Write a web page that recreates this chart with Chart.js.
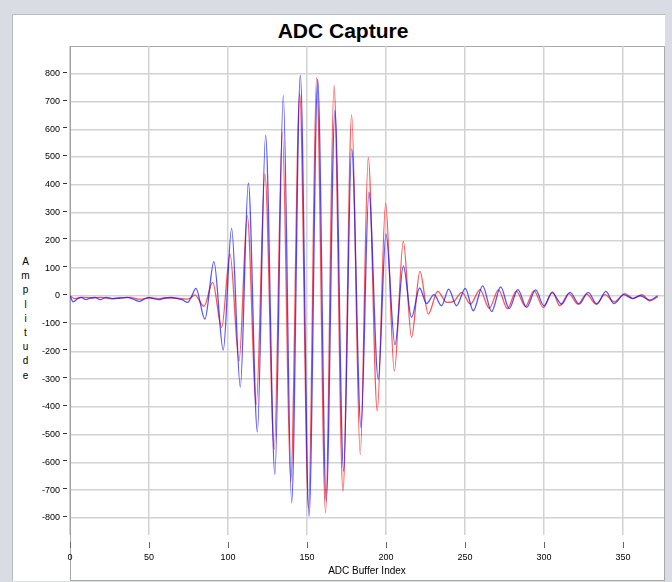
<!DOCTYPE html>
<html>
<head>
<meta charset="utf-8">
<title>ADC Capture</title>
<script src="https://cdn.jsdelivr.net/npm/chart.js@4.4.0/dist/chart.umd.min.js"></script>
<style>
    html, body { margin: 0; padding: 0; }
    body { width: 672px; height: 582px; background: #d9dce3; position: relative; overflow: hidden; font-family: "Liberation Sans", Arial, sans-serif; }
    #panel { position: absolute; left: 12px; top: 14px; width: 652px; height: 566px; background: #fff; border-left: 1px solid #b8bcc4; border-top: 1px solid #b8bcc4; }
    #frame { position: absolute; left: 70px; top: 46px; width: 593px; height: 533px; border: 1px solid #a8a8a8; }
    #title { position: absolute; left: 0; width: 686px; top: 19px; line-height: 24px; text-align: center; font-weight: bold; font-size: 21px; color: #000; }
    #ylabel { position: absolute; left: 20px; top: 256px; writing-mode: vertical-lr; text-orientation: upright; font-size: 10px; letter-spacing: 3.2px; color: #000; }
    #chartWrap { position: absolute; left: 0; top: 0; width: 672px; height: 582px; }
</style>
</head>
<body>
<div id="panel"></div>
<div id="frame"></div>
<div id="title">ADC Capture</div>
<div id="ylabel">Amplitude</div>
<div id="chartWrap"><canvas id="adcChart"></canvas></div>
<script>
        // sample index / amplitude read at the turning points of each trace
        const blueIdx = [0, 2, 5, 7, 10, 13, 16, 19, 23, 27, 31, 36, 40, 44, 47, 50, 53, 56, 60, 64, 68, 71, 74.5, 77,
            79.7, 85.4, 91.1, 97, 102.3, 107.8, 112.9, 118.6, 123.8, 129.7, 135, 140.3, 145.8, 151.3, 156.8, 162.2,
            167.7, 173.2, 178.3, 184.2, 189.2, 195.1, 200, 205.7, 211, 216.2, 221.3, 225.7, 230.4, 235.2, 239.7,
            244.7, 250.2, 255.3, 261.2, 266.9, 272.6, 278, 283.5, 289, 294.7, 300, 305.2, 311.2, 316.5, 322.3, 328,
            333.5, 339.2, 344.3, 350.6, 356, 361, 367, 372];
        const blueVal = [0, -22, -10, -6, -14, -8, -6, -14, -6, -10, -8, -6, -12, -20, -12, -6, -10, -14, -8, -6, -10, -14, -24, -2,
            27, -84, 123, -196, 243, -329, 407, -491, 578, -644, 722, -746, 794, -794, 780, -740,
            668, -632, 530, -475, 373, -301, 223, -177, 108, -78, 28, -28, 4, -36, 24,
            -36, 27, -54, 36, -57, 32, -46, 22, -42, 21, -36, 11, -30, 12, -30, 12,
            -30, 16, -28, 4, -10, 0, -16, 0];

        const redIdx = [0, 3, 8, 14, 20, 26, 32, 38, 44, 50, 56, 62, 68, 74, 76, 79,
            84.8, 90.3, 96, 101.3, 107, 112.2, 117.9, 123.4, 129.3, 134.4, 139.7, 145.4, 151, 156.1, 161.8,
            167.1, 172.8, 178.3, 183.7, 188.8, 194.5, 199.8, 205.3, 211, 216.2, 221.5, 226.8, 232.7, 238.5,
            243, 248, 253.5, 259.5, 265.4, 271.2, 276.9, 282.5, 288.3, 293.7, 299.6, 305.4, 310, 315.8, 321.5,
            327, 333, 338.6, 344.5, 351.3, 356.5, 362, 367, 372];
        const redVal = [0, -10, -6, -8, -6, -11, -8, -6, -12, -8, -10, -8, -9, -12, -9, 3,
            -38, 48, -114, 150, -235, 289, -391, 439, -553, 590, -670, 728, -764, 786, -782,
            758, -704, 653, -572, 499, -415, 333, -271, 196, -150, 88, -66, 16, -24,
            -20, 12, -30, 22, -45, 21, -46, 17, -38, 18, -42, 14, -36, 8, -30,
            6, -30, 4, -22, 8, -10, 4, -18, -4];

        const xTicks = [0, 50, 100, 150, 200, 250, 300, 350];
        const yTicks = [-800, -700, -600, -500, -400, -300, -200, -100, 0, 100, 200, 300, 400, 500, 600, 700, 800];

        let adcChart = null;

        function toPoints(xs, ys) {
            return xs.map((x, i) => ({ x: x, y: ys[i] }));
        }

        // small tick dashes sitting just outside the plot, like the original control
        const tickDashes = {
            id: 'tickDashes',
            afterDraw(chart) {
                const ctx = chart.ctx;
                const xs = chart.scales.x;
                const ys = chart.scales.y;
                ctx.save();
                ctx.lineWidth = 1;
                ctx.strokeStyle = '#333';
                ctx.beginPath();
                yTicks.forEach(v => {
                    const py = Math.round(ys.getPixelForValue(v)) - 1.5;
                    ctx.moveTo(63, py);
                    ctx.lineTo(67, py);
                });
                ctx.stroke();
                ctx.strokeStyle = '#666';
                ctx.beginPath();
                xTicks.forEach(v => {
                    const px = Math.round(xs.getPixelForValue(v)) + 0.5;
                    ctx.moveTo(px, 542);
                    ctx.lineTo(px, 548);
                });
                ctx.stroke();
                ctx.restore();
            }
        };

        function initializeChart() {
            const ctx = document.getElementById('adcChart').getContext('2d');
            adcChart = new Chart(ctx, {
                type: 'line',
                data: {
                    datasets: [
                        {
                            label: 'Channel B',
                            data: toPoints(blueIdx, blueVal),
                            borderColor: 'rgba(20, 20, 255, 0.72)',
                            borderWidth: 1.3,
                            pointRadius: 0,
                            cubicInterpolationMode: 'monotone',
                            order: 0
                        },
                        {
                            label: 'Channel A',
                            data: toPoints(redIdx, redVal),
                            borderColor: 'rgba(255, 20, 20, 0.72)',
                            borderWidth: 1.3,
                            pointRadius: 0,
                            cubicInterpolationMode: 'monotone',
                            order: 1
                        }
                    ]
                },
                options: {
                    responsive: false,
                    animation: false,
                    layout: { padding: { left: 0, top: 46, right: 8, bottom: 2 } },
                    plugins: { legend: { display: false }, tooltip: { enabled: false } },
                    scales: {
                        x: {
                            type: 'linear',
                            min: 0,
                            max: 376,
                            afterFit: s => { s.height = 45; },
                            afterBuildTicks: s => { s.ticks = xTicks.map(v => ({ value: v })); },
                            grid: { color: '#d2d2d2', lineWidth: 1.5, drawTicks: false },
                            border: { display: false },
                            ticks: { padding: 17, color: '#000', font: { family: 'Liberation Sans', size: 9 } },
                            title: {
                                display: true,
                                text: 'ADC Buffer Index',
                                color: '#000',
                                padding: { top: 3, bottom: 3 },
                                font: { family: 'Liberation Sans', size: 10 }
                            }
                        },
                        y: {
                            min: -862,
                            max: 900,
                            afterFit: s => { s.width = 70; },
                            afterBuildTicks: s => { s.ticks = yTicks.map(v => ({ value: v })); },
                            grid: { color: '#d2d2d2', lineWidth: 1.5, drawTicks: false },
                            border: { display: true, color: '#a0a0a0' },
                            ticks: { padding: 10, color: '#000', font: { family: 'Liberation Sans', size: 9 } }
                        }
                    }
                },
                plugins: [tickDashes]
            });
        }

        document.getElementById('adcChart').width = 672;
        document.getElementById('adcChart').height = 582;
        document.addEventListener('DOMContentLoaded', initializeChart);
</script>
</body>
</html>
